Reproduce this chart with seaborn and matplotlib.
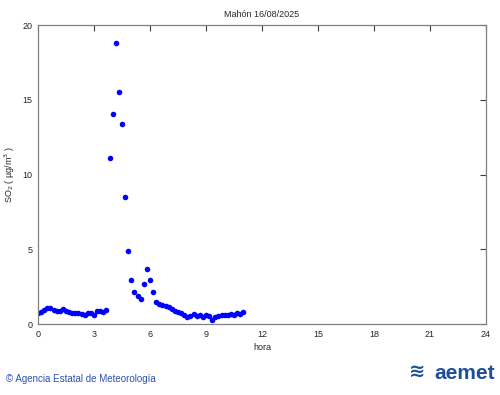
import numpy as np
import pandas as pd
import matplotlib
matplotlib.use("Agg")
import matplotlib.pyplot as plt
import seaborn as sns

# datos SO2 cada 10 minutos (hora decimal)
titulo = "Mahón 16/08/2025"
so2 = [
    0.74, 0.80, 0.95, 1.07, 1.07, 0.95, 0.88, 0.87, 0.98, 0.90, 0.82, 0.77,
    0.74, 0.72, 0.70, 0.62, 0.72, 0.74, 0.62, 0.85, 0.87, 0.78, 0.92,
    11.1, 14.07, 18.8, 15.5, 13.4, 8.5, 4.9, 2.96, 2.14, 1.85, 1.65, 2.67,
    3.66, 2.92, 2.12,
    1.47, 1.34, 1.25, 1.18, 1.12, 1.00, 0.89, 0.80, 0.74, 0.58, 0.45, 0.51,
    0.67, 0.51, 0.58, 0.45, 0.58, 0.51, 0.29, 0.45, 0.51, 0.58, 0.62, 0.62,
    0.67, 0.62, 0.74, 0.68, 0.80,
]
horas = [i / 6 for i in range(len(so2))]
xticks = list(range(0, 25, 3))
yticks = [0, 5, 10, 15, 20]

df = pd.DataFrame({"hora": horas, "so2": so2})

sns.set_style("white")
plt.rcParams["font.family"] = ["Liberation Sans", "DejaVu Sans"]

fig = plt.figure(figsize=(5, 3.95), dpi=100)
ax = fig.add_axes([0.076, 0.1797, 0.896, 0.757])
sns.scatterplot(data=df, x="hora", y="so2", ax=ax, color="#0000ff",
                s=16, linewidth=0, legend=False)

ax.set_xlim(0, 24)
ax.set_ylim(0, 20)
ax.set_xticks(xticks)
ax.set_yticks(yticks)
ax.tick_params(direction="in", top=True, right=True, labelsize=6.5,
               length=4, width=0.8, color="#404040", pad=4)
for s in ax.spines.values():
    s.set_color("#808080")
    s.set_linewidth(0.9)

ax.set_title(titulo, fontsize=6.5, pad=6)
ax.set_xlabel("hora", fontsize=6.5, labelpad=3)
ax.set_ylabel("SO$_2$ ( µg/m$^3$ )", fontsize=6.5, labelpad=4)

fig.text(0.012, 0.028, "© Agencia Estatal de Meteorología", fontsize=7,
         color="#3050b0", ha="left", va="bottom")
fig.text(0.99, 0.03, "aemet", fontsize=15, fontweight="bold",
         color="#1d4f9c", ha="right", va="bottom")
fig.text(0.835, 0.035, "≋", fontsize=14, fontweight="bold",
         color="#1d4f9c", ha="center", va="bottom")

fig.savefig("out.png", dpi=100)
